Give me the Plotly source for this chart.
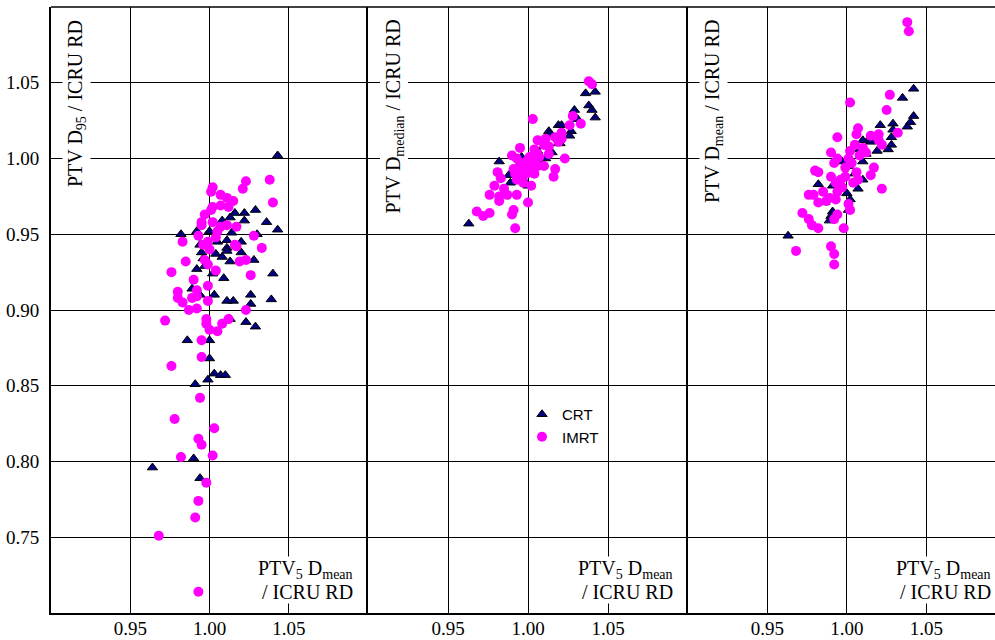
import plotly.graph_objects as go

# ---------------- data ----------------
series_names = ["CRT", "IMRT"]
x_ticks = [0.95, 1.00, 1.05]
y_ticks = [0.75, 0.80, 0.85, 0.90, 0.95, 1.00, 1.05]

# Panel 1: PTV D95 / ICRU RD
x1_crt = [1.043, 1.029, 1.036, 1.043, 1.022, 1.022, 1.016, 1.013, 1.008, 0.982,
          0.992, 1.000, 1.014, 1.030, 1.005, 1.011, 1.020, 0.994, 1.011, 1.004,
          1.011, 1.020, 1.008, 1.013, 1.028, 0.995, 0.996, 1.040, 1.039, 1.026,
          1.026, 1.015, 1.011, 1.003, 1.009, 0.992, 0.997, 1.002, 0.989, 0.994,
          1.013, 1.023, 1.029, 0.986, 1.000, 1.000, 1.003, 1.007, 1.010, 0.999,
          0.991, 0.964, 0.990, 0.994]
y1_crt = [1.002, 0.966, 0.958, 0.953, 0.964, 0.959, 0.964, 0.961, 0.959, 0.950,
          0.952, 0.952, 0.951, 0.950, 0.945, 0.946, 0.945, 0.943, 0.941, 0.937,
          0.939, 0.938, 0.935, 0.932, 0.933, 0.938, 0.934, 0.924, 0.907, 0.910,
          0.904, 0.906, 0.906, 0.910, 0.921, 0.927, 0.929, 0.924, 0.914, 0.910,
          0.894, 0.892, 0.889, 0.880, 0.880, 0.868, 0.858, 0.857, 0.857, 0.854,
          0.851, 0.796, 0.802, 0.789]
x1_imrt = [1.023, 1.021, 1.038, 1.040, 1.002, 1.001, 1.007, 1.011, 1.015, 1.012,
           1.007, 1.002, 1.001, 0.997, 0.995, 0.995, 1.002, 1.007, 1.011, 1.017,
           1.005, 1.004, 0.993, 0.983, 1.028, 1.033, 1.016, 0.999, 0.996, 1.000,
           0.985, 0.997, 1.019, 1.023, 1.017, 0.999, 1.004, 0.976, 1.026, 0.990,
           0.999, 0.980, 0.980, 0.983, 0.989, 0.992, 0.992, 0.999, 0.987, 0.992,
           0.972, 1.023, 0.998, 0.998, 1.008, 1.012, 1.005, 1.000, 0.995, 0.995,
           0.976, 0.994, 0.978, 1.003, 0.993, 0.995, 0.982, 1.002, 0.998, 0.993,
           0.991, 0.968, 0.993]
y1_imrt = [0.985, 0.980, 0.986, 0.971, 0.981, 0.978, 0.976, 0.974, 0.972, 0.968,
           0.969, 0.968, 0.966, 0.963, 0.958, 0.956, 0.958, 0.955, 0.956, 0.955,
           0.952, 0.948, 0.949, 0.945, 0.949, 0.941, 0.943, 0.945, 0.943, 0.940,
           0.932, 0.933, 0.932, 0.933, 0.942, 0.930, 0.926, 0.925, 0.923, 0.920,
           0.916, 0.912, 0.908, 0.905, 0.908, 0.913, 0.909, 0.906, 0.900, 0.901,
           0.893, 0.900, 0.894, 0.891, 0.891, 0.894, 0.886, 0.887, 0.880, 0.869,
           0.863, 0.842, 0.828, 0.822, 0.815, 0.811, 0.803, 0.804, 0.786, 0.774,
           0.763, 0.751, 0.714]

# Panel 2: PTV Dmedian / ICRU RD
x2_crt = [0.963, 0.982, 0.996, 1.019, 1.029, 1.036, 1.042, 1.038, 1.040, 1.042,
          1.013, 1.027, 1.026, 1.019, 1.015, 1.011, 1.000, 0.989, 0.988, 1.031,
          1.021, 1.014, 1.020, 1.006, 1.003, 0.995, 1.008, 0.998, 1.010, 1.005]
y2_crt = [0.957, 0.998, 1.001, 1.022, 1.032, 1.043, 1.044, 1.035, 1.032, 1.027,
          1.018, 1.018, 1.015, 1.010, 1.004, 1.000, 0.982, 0.984, 0.989, 1.026,
          1.022, 1.016, 1.010, 1.005, 0.995, 0.990, 0.998, 0.985, 1.008, 1.001]
x2_imrt = [1.038, 1.040, 1.003, 1.028, 1.033, 1.026, 1.021, 1.017, 1.023, 1.006,
           1.010, 0.995, 1.004, 0.990, 0.993, 1.001, 1.007, 0.995, 1.002, 0.991,
           0.981, 0.983, 1.017, 1.016, 0.992, 0.996, 0.999, 1.004, 0.993, 0.997,
           1.002, 0.979, 0.985, 0.976, 0.982, 0.987, 0.993, 0.982, 1.000, 0.968,
           0.972, 0.976, 0.991, 0.990, 0.992, 1.010, 1.013, 1.006, 1.013, 1.011,
           1.021, 1.019, 0.994, 0.998, 0.999, 1.003, 1.006, 0.997, 1.001]
y2_imrt = [1.051, 1.049, 1.026, 1.028, 1.023, 1.022, 1.017, 1.014, 1.000, 1.012,
           1.009, 1.007, 1.006, 1.002, 1.000, 1.001, 1.001, 0.997, 0.997, 0.993,
           0.991, 0.987, 0.993, 0.988, 0.990, 0.988, 0.990, 0.990, 0.986, 0.984,
           0.982, 0.982, 0.980, 0.976, 0.975, 0.976, 0.976, 0.972, 0.971, 0.965,
           0.962, 0.964, 0.966, 0.963, 0.954, 0.995, 1.003, 0.995, 1.008, 1.013,
           1.013, 1.011, 0.992, 0.995, 0.998, 0.999, 1.003, 0.991, 0.993]

# Panel 3: PTV Dmean / ICRU RD
x3_crt = [0.963, 1.042, 1.035, 1.042, 1.040, 1.038, 1.029, 1.021, 1.029, 1.028,
          1.028, 1.026, 1.019, 1.014, 1.010, 1.008, 1.010, 0.997, 1.001, 1.010,
          1.007, 1.000, 1.002, 0.991, 0.982, 0.986, 0.991, 0.990, 0.989, 1.001,
          1.015, 1.012, 1.005, 0.995]
y3_crt = [0.949, 1.046, 1.040, 1.028, 1.024, 1.021, 1.023, 1.022, 1.019, 1.014,
          1.009, 1.006, 1.005, 1.013, 1.012, 1.006, 0.998, 0.998, 0.995, 0.986,
          0.980, 0.977, 0.973, 0.982, 0.983, 0.971, 0.965, 0.962, 0.959, 0.966,
          1.011, 1.003, 0.990, 0.985]
x3_imrt = [1.038, 1.039, 1.027, 1.025, 1.002, 1.032, 1.007, 1.006, 0.994, 1.015,
           1.020, 1.020, 1.022, 1.005, 1.010, 1.012, 1.008, 1.002, 1.001, 0.990,
           0.994, 0.992, 1.003, 0.999, 1.017, 1.015, 1.006, 1.007, 1.004, 0.999,
           0.996, 0.990, 0.993, 0.980, 0.982, 0.997, 0.994, 1.022, 0.985, 0.979,
           0.976, 0.989, 0.993, 0.982, 0.987, 1.001, 1.002, 0.972, 0.976, 0.978,
           0.982, 0.994, 0.992, 0.998, 0.968, 0.990, 0.992, 0.992]
y3_imrt = [1.090, 1.084, 1.042, 1.032, 1.037, 1.017, 1.020, 1.016, 1.014, 1.015,
           1.016, 1.012, 1.009, 1.009, 1.007, 1.004, 1.002, 1.005, 1.000, 1.004,
           1.000, 0.997, 0.997, 0.994, 0.994, 0.989, 0.991, 0.986, 0.984, 0.988,
           0.986, 0.988, 0.984, 0.992, 0.991, 0.981, 0.978, 0.980, 0.978, 0.976,
           0.976, 0.974, 0.973, 0.971, 0.972, 0.970, 0.966, 0.964, 0.960, 0.956,
           0.954, 0.963, 0.960, 0.954, 0.939, 0.942, 0.937, 0.930]

y_titles = ["PTV D<sub>95</sub> / ICRU RD",
            "PTV D<sub>median</sub> / ICRU RD",
            "PTV D<sub>mean</sub> / ICRU RD"]
x_title_1 = "PTV<sub>5</sub> D<sub>mean</sub>"
x_title_2 = "/ ICRU RD"

# ---------------- figure ----------------
SERIF = "Liberation Serif"
SANS = "Liberation Sans"
crt_style = dict(symbol="triangle-up", size=9, color="#000080",
                 line=dict(color="black", width=1))
imrt_style = dict(symbol="circle", size=10, color="#FF00FF",
                  line=dict(width=0))

panels = [(x1_crt, y1_crt, x1_imrt, y1_imrt),
          (x2_crt, y2_crt, x2_imrt, y2_imrt),
          (x3_crt, y3_crt, x3_imrt, y3_imrt)]

fig = go.Figure()
for i, (xc, yc, xi, yi) in enumerate(panels):
    ax = "" if i == 0 else str(i + 1)
    fig.add_trace(go.Scatter(x=xc, y=yc, mode="markers", name=series_names[0],
                             marker=crt_style, xaxis="x" + ax, yaxis="y" + ax,
                             showlegend=(i == 0), legendrank=1))
    fig.add_trace(go.Scatter(x=xi, y=yi, mode="markers", name=series_names[1],
                             marker=imrt_style, xaxis="x" + ax, yaxis="y" + ax,
                             showlegend=(i == 0), legendrank=2))

W, H = 995, 640
ml, mr, mt, mb = 51, 0, 7, 27
pw = W - ml - mr
ph = H - mt - mb
d1 = (368 - ml) / pw
d2 = (688 - ml) / pw
domains = [[0, d1], [d1, d2], [d2, 1]]
xranges = [[0.90, 1.10], [0.90, 1.10], [0.90, 1.0932]]

layout = dict(width=W, height=H, margin=dict(l=ml, r=mr, t=mt, b=mb, autoexpand=False),
              paper_bgcolor="white", plot_bgcolor="white",
              font=dict(family=SERIF, size=19, color="black"))
for i in range(3):
    ax = "" if i == 0 else str(i + 1)
    layout["xaxis" + ax] = dict(
        domain=domains[i], range=xranges[i], anchor="y" + ax,
        tickvals=x_ticks, tickformat=".2f",
        showgrid=True, gridcolor="#000000", gridwidth=1,
        zeroline=False, showline=True, linecolor="black", linewidth=2,
        mirror=False, ticks="", ticklabelstandoff=-3, automargin=False,
        tickfont=dict(family=SERIF, size=19, color="black"))
    layout["yaxis" + ax] = dict(
        domain=[0, 1], range=[0.70, 1.10], anchor="x" + ax,
        tickvals=y_ticks, tickformat=".2f",
        showticklabels=(i == 0), automargin=False,
        showgrid=True, gridcolor="#000000", gridwidth=1,
        zeroline=False, showline=True, linecolor="black", linewidth=2,
        ticks="", ticklabelstandoff=6,
        tickfont=dict(family=SERIF, size=19, color="black"))

layout["legend"] = dict(x=(522 - ml) / pw, y=(613 - 398) / ph,
                        xanchor="left", yanchor="top",
                        bgcolor="rgba(0,0,0,0)", borderwidth=0,
                        font=dict(family=SANS, size=15, color="black"),
                        itemwidth=30, tracegroupgap=0)
fig.update_layout(**layout)

# top border line of the whole plot area
fig.add_shape(type="line", xref="paper", yref="paper", x0=0, x1=1, y0=1, y1=1,
              line=dict(color="black", width=1.5))

xshift_right = [-14, -14, -3]
for i in range(3):
    ax = "" if i == 0 else str(i + 1)
    fig.add_annotation(text=y_titles[i], textangle=-90,
                       xref="x" + ax + " domain", yref="y" + ax + " domain",
                       x=0, y=1, xanchor="left", yanchor="top",
                       xshift=11, yshift=-11, showarrow=False,
                       bgcolor="white", borderpad=1,
                       font=dict(family=SERIF, size=20, color="black"))
    fig.add_annotation(text=x_title_1, align="right",
                       xref="x" + ax + " domain", yref="y" + ax + " domain",
                       x=1, y=0, xanchor="right", yanchor="bottom",
                       xshift=xshift_right[i], yshift=30, showarrow=False,
                       bgcolor="white", borderpad=0,
                       font=dict(family=SERIF, size=20, color="black"))
    fig.add_annotation(text=x_title_2, align="right",
                       xref="x" + ax + " domain", yref="y" + ax + " domain",
                       x=1, y=0, xanchor="right", yanchor="bottom",
                       xshift=xshift_right[i], yshift=9, showarrow=False,
                       bgcolor="white", borderpad=0,
                       font=dict(family=SERIF, size=20, color="black"))

fig.write_html("out.html", config={"displayModeBar": False},
               post_script="document.body.style.margin='0px';"
                           "document.body.style.overflow='hidden';")
